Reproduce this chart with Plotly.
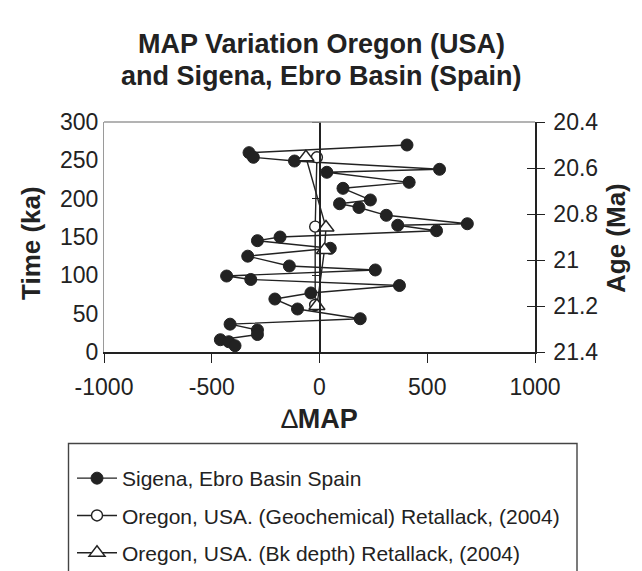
import plotly.graph_objects as go

# Sigena, Ebro Basin Spain (delta MAP vs time in ka)
sigena_map = [406, -327, -307, -116, 557, 34, 416, 109, 236, 93, 183, 310, 686, 363, 543,
              -183, -288, 50, -333, -140, 259, -431, -319, 371, -40, -207, -102, 189,
              -415, -288, -288, -460, -421, -392]
sigena_time = [270.0, 260.0, 254.0, 249.1, 238.3, 234.4, 221.3, 213.5, 198.3, 193.4, 188.5,
               178.3, 167.3, 165.3, 158.2, 150.0, 145.2, 135.3, 125.0, 112.2, 107.0, 99.1,
               94.6, 86.7, 77.0, 69.1, 56.1, 43.4, 36.3, 28.7, 22.8, 16.0, 13.4, 8.2]

# Oregon, USA (Geochemical) Retallack (2004)
geo_map = [-12, -20, -20]
geo_time = [254.0, 163.5, 61.3]

# Oregon, USA (Bk depth) Retallack (2004)
bk_map = [-63, 30, 23, -12]
bk_time = [254.0, 162.4, 133.0, 60.0]

x_ticks = [-1000, -500, 0, 500, 1000]
x_labels = ["-1000", "-500", "0", "500", "1000"]
time_ticks = [0, 50, 100, 150, 200, 250, 300]
age_ticks = [20.4, 20.6, 20.8, 21.0, 21.2, 21.4]
age_labels = ["20.4", "20.6", "20.8", "21", "21.2", "21.4"]

FONT = "Liberation Sans, Arial, sans-serif"
INK = "#222222"
GREY = "#9a9a9a"

# the page body adds an 8px margin; work in window pixels and subtract it
OFF = 8
W, H = 642 - OFF, 571 - OFF
L, R, T, B = 104 - OFF, 535 - OFF, 122 - OFF, 352 - OFF


def px_x(p):
    return (p - OFF - L) / (R - L)


def px_y(p):
    return (B - (p - OFF)) / (B - T)


fig = go.Figure()

fig.add_trace(go.Scatter(
    x=sigena_map, y=sigena_time, mode="lines+markers",
    name="Sigena, Ebro Basin Spain", legendgroup="a",
    line=dict(color=INK, width=1.4),
    marker=dict(symbol="circle", size=12, color=INK, line=dict(color=INK, width=1)),
))
fig.add_trace(go.Scatter(
    x=geo_map, y=geo_time, mode="lines+markers",
    name="Oregon, USA. (Geochemical) Retallack, (2004)", legendgroup="b",
    line=dict(color=INK, width=1.4),
    marker=dict(symbol="circle", size=11, color="white", line=dict(color=INK, width=1.4)),
))
fig.add_trace(go.Scatter(
    x=bk_map, y=bk_time, mode="lines+markers",
    name="Oregon, USA. (Bk depth) Retallack, (2004)", legendgroup="c",
    line=dict(color=INK, width=1.4),
    marker=dict(symbol="triangle-up", size=14, color="white", line=dict(color=INK, width=1.4)),
))

# invisible anchors for the extra axes
for ax, yv in (("y2", 21.0), ("y3", 21.0), ("y4", 150)):
    fig.add_trace(go.Scatter(x=[-5000], y=[yv], yaxis=ax, mode="markers",
                             marker=dict(size=1, color="rgba(0,0,0,0)"),
                             showlegend=False, hoverinfo="skip"))

fig.update_layout(
    width=W, height=H,
    margin=dict(l=L, r=W - R, t=T, b=H - B, autoexpand=False),
    paper_bgcolor="white", plot_bgcolor="white",
    font=dict(family=FONT, color=INK, size=23),
    xaxis=dict(
        range=[-1000, 1000], tickvals=x_ticks, ticktext=x_labels, ticks="outside", ticklen=9,
        tickcolor=INK, tickwidth=1.3, showline=True, linecolor=INK, linewidth=1.5,
        showgrid=False, zeroline=False, tickfont=dict(size=23), ticklabelstandoff=5,
        title=dict(text="∆<b>MAP</b>", font=dict(size=27), standoff=10),
    ),
    yaxis=dict(
        range=[0, 300], tickvals=time_ticks, ticks="", showline=True,
        linecolor=GREY, linewidth=1.3, showgrid=False, zeroline=False,
        tickfont=dict(size=23),
    ),
    yaxis2=dict(
        overlaying="y", side="right", anchor="x", range=[21.4, 20.4],
        tickvals=age_ticks, ticktext=age_labels, ticks="outside", ticklen=8,
        tickcolor=INK, tickwidth=1.3, showline=True, linecolor=INK, linewidth=1.5,
        showgrid=False, zeroline=False, tickfont=dict(size=23), ticklabelstandoff=4,
    ),
    yaxis3=dict(
        overlaying="y", side="right", anchor="x", range=[21.4, 20.4],
        tickvals=age_ticks, ticks="inside", ticklen=8, tickcolor=INK, tickwidth=1.3,
        showticklabels=False, showline=False, showgrid=False, zeroline=False,
    ),
    yaxis4=dict(
        overlaying="y", side="left", anchor="free", position=0.5, range=[0, 300],
        tickvals=[0, 100, 200, 300], ticks="outside", ticklen=7, tickcolor=INK,
        tickwidth=1.3, showticklabels=False, showline=True, linecolor=INK,
        linewidth=1.5, showgrid=False, zeroline=False,
    ),
    legend=dict(
        x=px_x(72), xanchor="left", y=px_y(458), yanchor="top",
        font=dict(size=21, family=FONT, color=INK), itemwidth=40,
        bgcolor="rgba(0,0,0,0)", borderwidth=0, traceorder="grouped",
        tracegroupgap=7,
    ),
    showlegend=True,
    shapes=[
        dict(type="line", xref="paper", yref="paper", x0=0, x1=1, y0=1, y1=1,
             line=dict(color=GREY, width=1.3)),
        dict(type="rect", xref="paper", yref="paper",
             x0=px_x(68.5), x1=px_x(577),
             y0=px_y(443.5), y1=px_y(620),
             line=dict(color="#444444", width=1.4), fillcolor="rgba(0,0,0,0)"),
    ],
    annotations=[
        dict(text="<b>MAP Variation Oregon (USA)</b>", xref="paper", yref="paper",
             x=px_x(321), y=px_y(44), xanchor="center", yanchor="middle",
             showarrow=False, font=dict(size=27, family=FONT, color=INK)),
        dict(text="<b>and Sigena, Ebro Basin (Spain)</b>", xref="paper", yref="paper",
             x=px_x(321), y=px_y(76), xanchor="center", yanchor="middle",
             showarrow=False, font=dict(size=27, family=FONT, color=INK)),
        dict(text="<b>Time (ka)</b>", xref="paper", yref="paper",
             x=px_x(31), y=px_y(243), xanchor="center", yanchor="middle",
             textangle=-90, showarrow=False, font=dict(size=26, family=FONT, color=INK)),
        dict(text="<b>Age (Ma)</b>", xref="paper", yref="paper",
             x=px_x(616), y=px_y(238), xanchor="center", yanchor="middle",
             textangle=-90, showarrow=False, font=dict(size=26, family=FONT, color=INK)),
    ],
)

fig.write_html("out.html")
